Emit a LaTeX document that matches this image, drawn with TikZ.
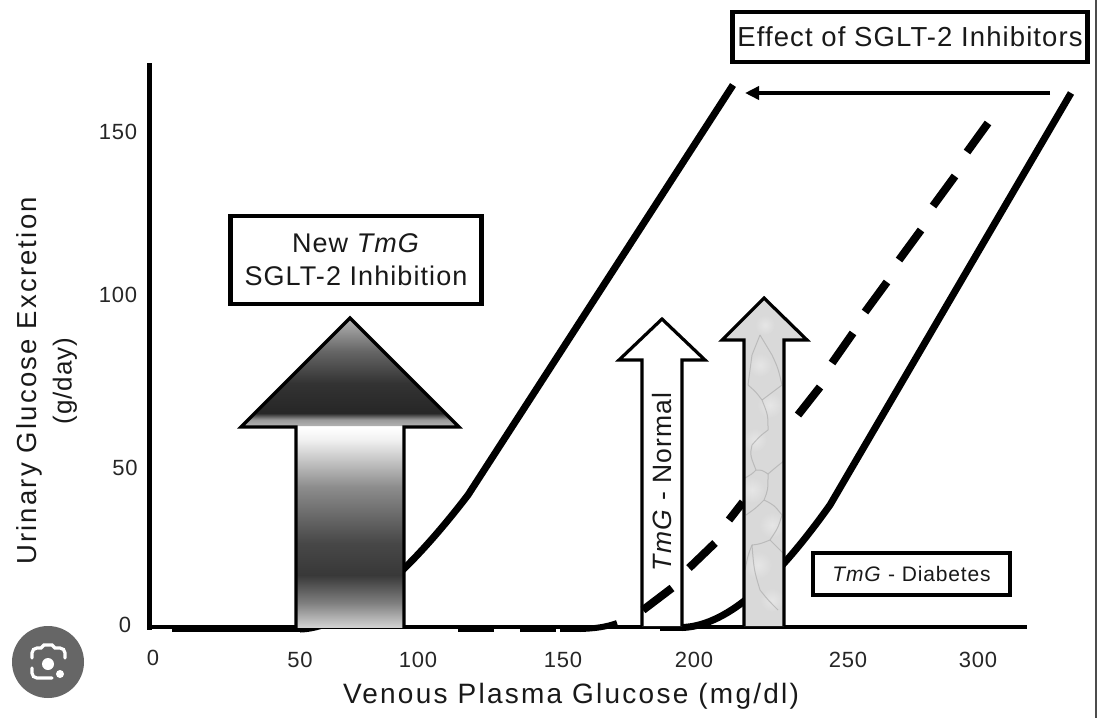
\documentclass[tikz,border=0pt]{standalone}
\usepackage{fontspec}
\setmainfont[LetterSpace=4]{Liberation Sans}
\newfontfamily\widefont[LetterSpace=8,ItalicFont={Liberation Sans Italic}]{Liberation Sans}
\usetikzlibrary{arrows.meta}
\pgfdeclareverticalshading{headshade}{100bp}{color(0bp)=(black!30); color(25bp)=(black!30); color(28bp)=(black!40); color(31bp)=(black!85); color(45bp)=(black!80); color(60bp)=(black!60); color(75bp)=(black!30); color(100bp)=(black!30)}
\pgfdeclareverticalshading{bodyshade}{100bp}{color(0bp)=(black!18); color(25bp)=(black!18); color(31bp)=(black!50); color(38bp)=(black!78); color(46bp)=(black!72); color(60bp)=(black!45); color(72bp)=(black!5); color(75bp)=(white); color(100bp)=(white)}
\tikzset{
  curve/.style={line width=7pt,black,line cap=butt},
  dashpart/.style={line width=8pt,black,line cap=butt},
  axisline/.style={line width=4pt,black},
  arrowout/.style={line width=3.2pt,black,line join=miter},
  label/.style={font=\fontsize{22}{24}\selectfont,inner sep=0pt,text=black!85},
  axistitle/.style={font=\widefont\fontsize{28}{30}\selectfont,inner sep=0pt,text=black!90},
  boxed/.style={draw=black,line width=4.5pt,fill=white,inner sep=0pt,align=center,text=black!90},
  blot/.style={inner color=white!90!black,outer color=black!15},
  vein/.style={black!32,line width=1pt,line join=round,opacity=.7}
}
\begin{document}
\begin{tikzpicture}[x=1pt,y=-1pt]
\useasboundingbox (0,0) rectangle (1098,718);
\fill[white] (0,0) rectangle (1098,718);
% named reference points
\coordinate (yTop) at (149,63);
\coordinate (origin) at (149,627);
\coordinate (xEnd) at (1027,627);
% right border
\draw[line width=1.6pt,black!70] (1096,0) -- (1096,718);
% axes
\draw[line width=5pt] (yTop) -- (149,630);
\draw[axisline] (origin) -- (xEnd);
\draw[line width=6pt] (172,629) -- (300,629);
\draw[line width=6pt] (458,629) -- (494,629);
\draw[line width=6pt] (520,629) -- (556,629);
\draw[line width=6pt] (560,629) -- (585,629);
% curves
\draw[curve] (300,629) .. controls (340,628) and (395,590) .. (468,495) -- (733,85);
\draw[line width=5pt] (660,628) -- (685,628);
\draw[curve] (682,627.5) .. controls (730,626) and (780,575) .. (830,505) -- (1071,93);
\draw[line width=6pt] (580,629) .. controls (595,628.5) and (606,627) .. (617,623);
\draw[dashpart] (689,568) -- (715,543);
\draw[dashpart] (729,520) -- (743,502);
\draw[dashpart] (798,415) -- (820,387);
\draw[dashpart] (832,363) -- (853,333);
\draw[dashpart] (865,312) -- (887,282);
\draw[dashpart] (899,260) -- (921,230);
\draw[dashpart] (933,206) -- (955,176);
\draw[dashpart] (967,152) -- (988,123);
% shift arrow
\coordinate (shiftFrom) at (1050,93);
\coordinate (shiftTo) at (745,93);
\draw[line width=3.8pt,-{Triangle[length=14pt,width=13pt]}] (shiftFrom) -- (shiftTo);
% big shaded arrow
\shade[shading=headshade,shading angle=0] (350,319) -- (244,426) -- (456,426) -- cycle;
\shade[shading=bodyshade,shading angle=0] (296,427) rectangle (404,627);
\draw[arrowout] (296,628) -- (296,427) -- (241,427) -- (350,318) -- (459,427) -- (404,427) -- (404,628);
% normal arrow
\draw[arrowout,fill=white] (642,626) -- (642,360) -- (619,360) -- (662,319) -- (705,360) -- (682,360) -- (682,626);
\draw[dashpart] (643,610) -- (672,588);
% textured arrow
\begin{scope}
\clip (744,626) -- (744,340) -- (722,340) -- (764,298) -- (807,340) -- (784,340) -- (784,626) -- cycle;
\fill[black!15] (720,295) rectangle (810,630);
\shade[blot] (752,490) circle (13);
\shade[blot] (772,525) circle (13);
\shade[blot] (758,565) circle (14);
\shade[blot] (770,405) circle (13);
\shade[blot] (755,440) circle (12);
\shade[blot] (772,600) circle (12);
\shade[blot] (760,365) circle (12);
\shade[blot] (765,325) circle (10);
\draw[vein] (745,478) .. controls (752,474) .. (756,470) .. controls (762,470) .. (768,474) .. controls (775,468) .. (785,460);
\draw[vein] (756,470) .. controls (750,455) .. (752,445) .. controls (760,436) .. (768,430) .. controls (768,415) .. (762,400) .. controls (756,392) .. (748,385);
\draw[vein] (768,474) .. controls (768,490) .. (764,500) .. controls (756,508) .. (746,515);
\draw[vein] (764,500) .. controls (774,505) .. (782,515) .. controls (778,528) .. (770,540) .. controls (760,544) .. (752,545) .. controls (748,555) .. (745,570);
\draw[vein] (770,540) -- (785,555);
\draw[vein] (752,545) .. controls (754,570) .. (760,590) .. controls (768,600) .. (778,610);
\draw[vein] (762,400) .. controls (772,392) .. (782,385) .. controls (778,368) .. (772,355) .. controls (766,345) .. (760,335);
\draw[vein] (748,385) .. controls (750,370) .. (752,355) -- (760,335);
\end{scope}
\draw[arrowout] (744,626) -- (744,340) -- (722,340) -- (764,298) -- (807,340) -- (784,340) -- (784,626);
% text
\node[boxed,minimum width=251pt,minimum height=88pt,font=\fontsize{27}{33}\selectfont] (newbox) at (356,260) {New \textit{TmG}\\SGLT-2 Inhibition};
\node[boxed,minimum width=355pt,minimum height=50pt,font=\fontsize{27.5}{30}\selectfont] (effect) at (910,37) {Effect of SGLT-2 Inhibitors};
\node[boxed,minimum width=197pt,minimum height=42pt,font=\fontsize{21}{24}\selectfont] (diab) at (911.5,574) {\textit{TmG} - Diabetes};
\node[rotate=90,inner sep=0pt,text=black!90,font=\fontsize{26.5}{28}\selectfont] (normal) at (662,482) {\textit{TmG} - Normal};
\node[label] (y150) at (118,132) {150};
\node[label] (y100) at (118,295) {100};
\node[label] (y50) at (125,468) {50};
\node[label] (y0) at (125,625) {0};
\node[label] (x0) at (153,658) {0};
\node[label] (x50) at (300,660) {50};
\node[label] (x100) at (418,660) {100};
\node[label] (x150) at (563,660) {150};
\node[label] (x200) at (694,660) {200};
\node[label] (x250) at (848,660) {250};
\node[label] (x300) at (978,660) {300};
\node[axistitle] (xtitle) at (571,696) {Venous Plasma Glucose (mg/dl)};
\node[axistitle,rotate=90,font=\widefont\fontsize{27.5}{30}\selectfont] (ytitle) at (29,381) {Urinary Glucose Excretion};
\node[axistitle,rotate=90,font=\fontsize{26}{28}\selectfont] (ytitle2) at (65,381) {(g/day)};
% lens icon
\fill[black!60] (48,662) circle (36);
\draw[white,line width=3.2pt,line cap=round] (32,658) -- (32,653) arc (180:270:5) -- (41,648) -- (44,645) -- (52,645) -- (55,648) -- (60,648) arc (270:360:5) -- (65,658);
\draw[white,line width=3.2pt,line cap=round] (32,668) -- (32,673) arc (180:90:5) -- (52,678);
\fill[white] (48,664) circle (6);
\fill[white] (60,674) circle (4);
\end{tikzpicture}
\end{document}
